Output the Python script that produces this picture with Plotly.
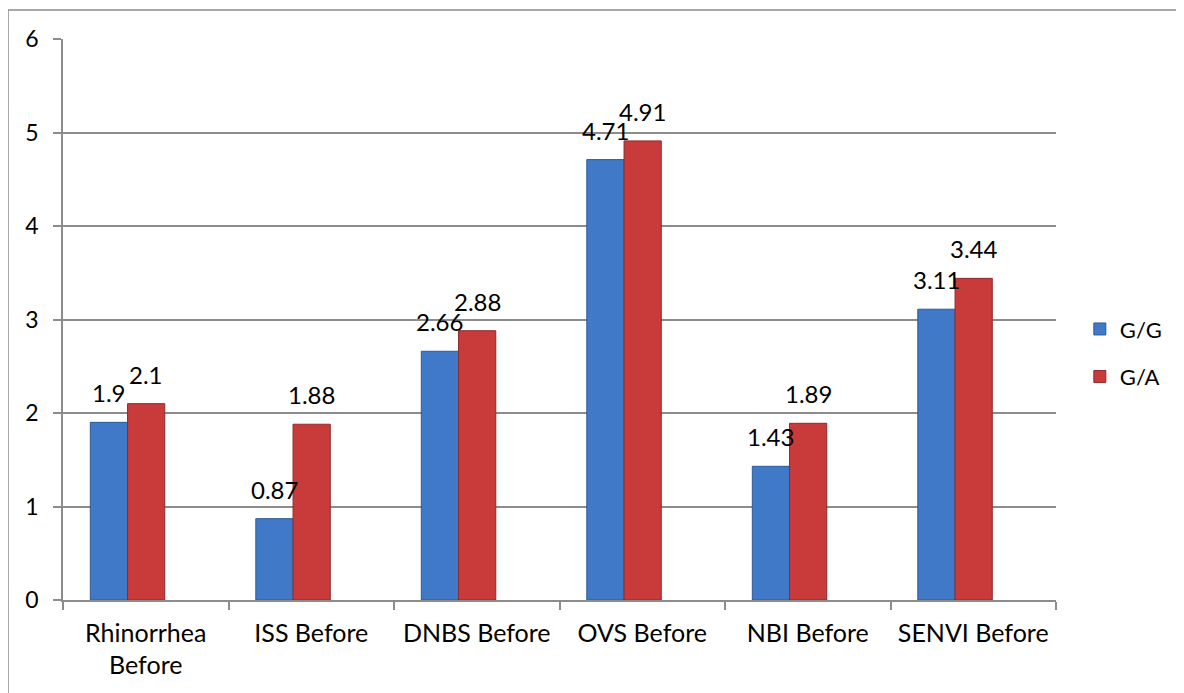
import plotly.graph_objects as go

categories = ["Rhinorrhea<br>Before", "ISS Before", "DNBS Before", "OVS Before", "NBI Before", "SENVI Before"]
gg_values = [1.9, 0.87, 2.66, 4.71, 1.43, 3.11]
ga_values = [2.1, 1.88, 2.88, 4.91, 1.89, 3.44]
gg_labels = ["1.9", "0.87", "2.66", "4.71", "1.43", "3.11"]
ga_labels = ["2.1", "1.88", "2.88", "4.91", "1.89", "3.44"]
y_ticks = [0, 1, 2, 3, 4, 5, 6]

BAR_W = 0.225
GG_OFF = -0.335
GA_OFF = -0.11
CAT_PX = 993 / 6

fig = go.Figure()
fig.add_trace(go.Bar(
    name="G/G", x=categories, y=gg_values, width=BAR_W, offset=GG_OFF,
    marker=dict(color="#4079C7", line=dict(color="#2D5A97", width=1)),
    legendgroup="a", hoverinfo="y",
))
fig.add_trace(go.Bar(
    name="G/A", x=categories, y=ga_values, width=BAR_W, offset=GA_OFF,
    marker=dict(color="#C93A3B", line=dict(color="#8E2A2B", width=1)),
    legendgroup="b", hoverinfo="y",
))

annotations = []
for vals, labs, off in ((gg_values, gg_labels, GG_OFF), (ga_values, ga_labels, GA_OFF)):
    for c, v, t in zip(categories, vals, labs):
        annotations.append(dict(
            x=c, y=v, text=t, showarrow=False, xref="x", yref="y",
            xanchor="center", yanchor="bottom",
            xshift=(off + BAR_W / 2) * CAT_PX, yshift=13,
            font=dict(family="Lato", size=24, color="#000000"),
        ))

fig.update_layout(
    width=1184, height=693,
    margin=dict(l=55, r=136, t=31, b=101),
    paper_bgcolor="white", plot_bgcolor="white",
    barmode="group",
    showlegend=True,
    legend=dict(
        x=1.024, y=0.44, xanchor="left", yanchor="middle",
        font=dict(family="Lato", size=22, color="#000000"),
        tracegroupgap=16, bgcolor="rgba(0,0,0,0)",
    ),
    annotations=annotations,
    font=dict(family="Lato", color="#000000"),
    shapes=[dict(
        type="rect", xref="paper", yref="paper",
        x0=(8 - 63) / 993, x1=1.3, y0=-0.4, y1=(600 - 10) / 561,
        line=dict(color="#8C8C8C", width=1.5), fillcolor="rgba(0,0,0,0)",
        layer="below",
    )],
)
fig.update_xaxes(
    type="category", tickson="boundaries", ticks="outside", ticklen=8,
    tickcolor="#8C8C8C", tickwidth=1.5,
    showline=True, linecolor="#8C8C8C", linewidth=1.5,
    showgrid=False, tickfont=dict(family="Lato", size=25, color="#000000"),
    ticklabelstandoff=10,
)
fig.update_yaxes(
    range=[0, 6], tickvals=y_ticks, ticks="outside", ticklen=8,
    tickcolor="#8C8C8C", tickwidth=1.5,
    showline=True, linecolor="#8C8C8C", linewidth=1.5,
    showgrid=True, gridcolor="#8C8C8C", gridwidth=1.5,
    zeroline=False, tickfont=dict(family="Lato", size=23, color="#000000"),
    ticklabelstandoff=10,
)

fig.write_html("out.html")
